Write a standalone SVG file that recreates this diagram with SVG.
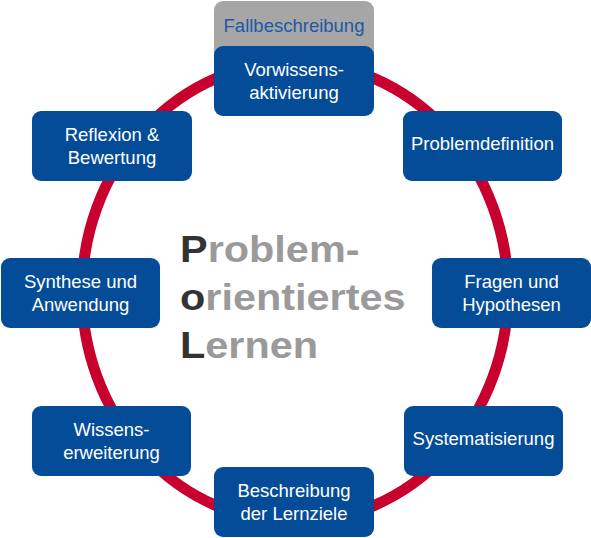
<svg xmlns="http://www.w3.org/2000/svg" width="591" height="538" viewBox="0 0 591 538">
<style>
.box{fill:#044c97}
.lbl{font-family:"Liberation Sans",Arial,sans-serif;font-size:18.5px;fill:#ffffff;text-anchor:middle}
.title{font-family:"Liberation Sans",Arial,sans-serif;font-size:37px;font-weight:bold;fill:#9a9a9a}
.dark{fill:#333333}
</style>
<rect width="591" height="538" fill="#ffffff"/>
<g id="connectors">
<ellipse cx="295" cy="292" rx="213" ry="230" fill="none" stroke="#c8002e" stroke-width="11"/>
</g>
<g id="fallbeschreibung">
<rect x="214" y="1" width="160" height="70" rx="9" fill="#a6a6a6"/>
<text x="294" y="31.5" class="lbl" style="fill:#1e58a6">Fallbeschreibung</text>
</g>
<g id="vorwissensaktivierung">
<rect class="box" x="214" y="46" width="160" height="70" rx="9"/>
<text class="lbl" x="294" y="76">Vorwissens-</text>
<text class="lbl" x="294" y="99">aktivierung</text>
</g>
<g id="problemdefinition">
<rect class="box" x="403" y="111" width="159" height="70" rx="9"/>
<text class="lbl" x="482.5" y="149.5">Problemdefinition</text>
</g>
<g id="fragen">
<rect class="box" x="432" y="258" width="159" height="70" rx="9"/>
<text class="lbl" x="511.5" y="288">Fragen und</text>
<text class="lbl" x="511.5" y="311">Hypothesen</text>
</g>
<g id="systematisierung">
<rect class="box" x="404" y="406" width="159" height="70" rx="9"/>
<text class="lbl" x="483.5" y="444.5">Systematisierung</text>
</g>
<g id="lernziele">
<rect class="box" x="214" y="467" width="160" height="70" rx="9"/>
<text class="lbl" x="294" y="497">Beschreibung</text>
<text class="lbl" x="294" y="520">der Lernziele</text>
</g>
<g id="wissenserweiterung">
<rect class="box" x="32" y="406" width="159" height="70" rx="9"/>
<text class="lbl" x="111.5" y="436">Wissens-</text>
<text class="lbl" x="111.5" y="459">erweiterung</text>
</g>
<g id="synthese">
<rect class="box" x="1" y="258" width="159" height="70" rx="9"/>
<text class="lbl" x="80.5" y="288">Synthese und</text>
<text class="lbl" x="80.5" y="311">Anwendung</text>
</g>
<g id="reflexion">
<rect class="box" x="32" y="111" width="160" height="70" rx="9"/>
<text class="lbl" x="112" y="141">Reflexion &amp;</text>
<text class="lbl" x="112" y="164">Bewertung</text>
</g>
<g id="title" transform="translate(180,0) scale(1.12,1)">
<text class="title" x="0" y="262"><tspan class="dark">P</tspan>roblem-</text>
<text class="title" x="0" y="310"><tspan class="dark">o</tspan>rientiertes</text>
<text class="title" x="0" y="358"><tspan class="dark">L</tspan>ernen</text>
</g>
</svg>
